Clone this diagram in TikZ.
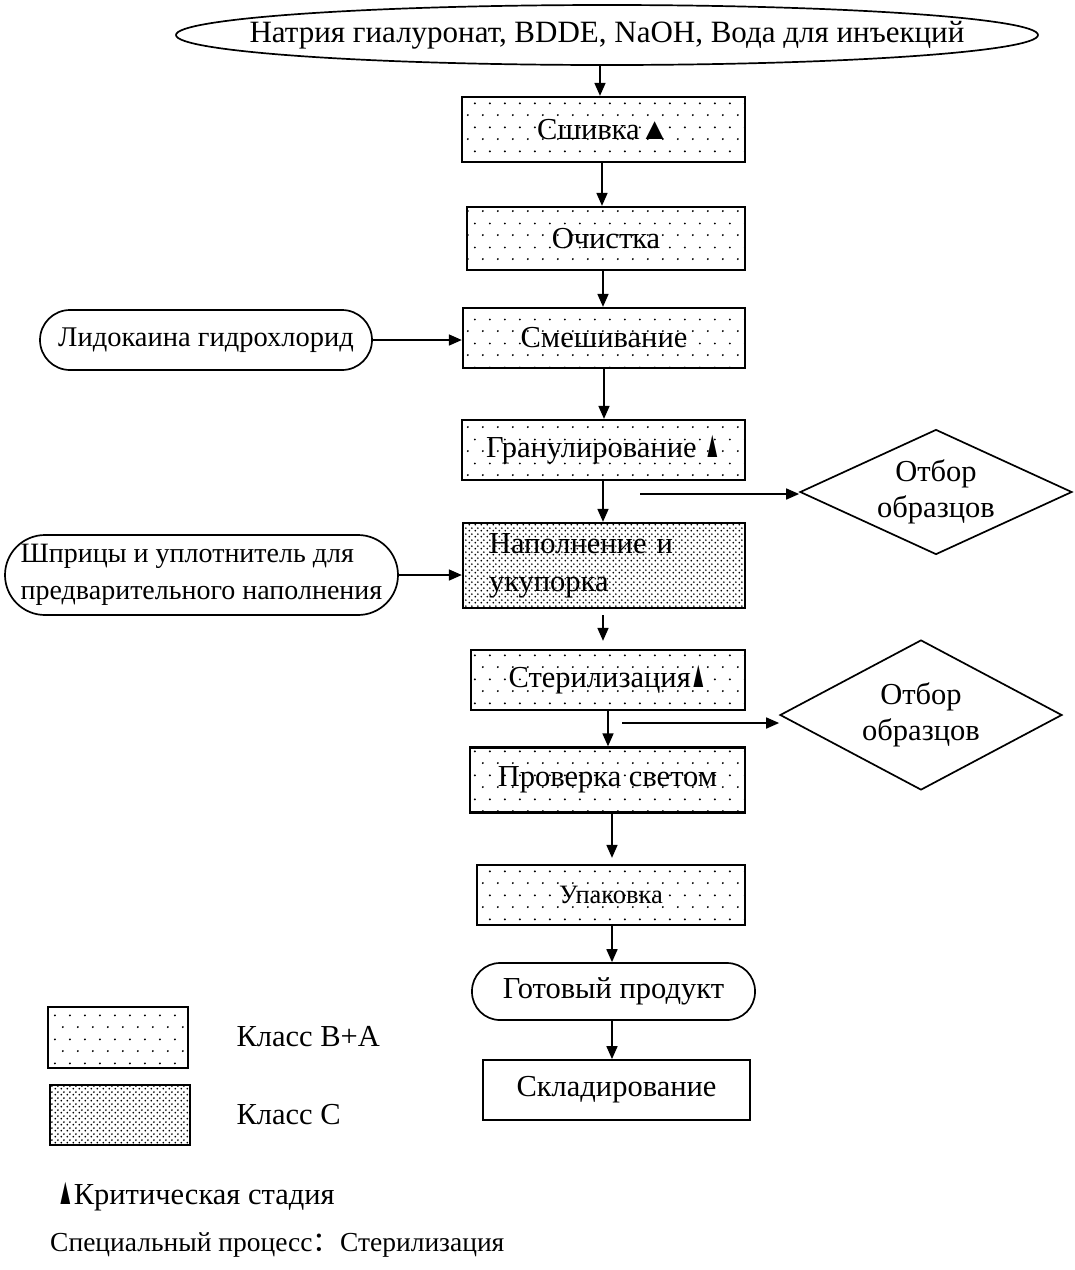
\documentclass[tikz,border=0pt]{standalone}
\usepackage{fontspec}
\usepackage{graphicx}
\setmainfont{Liberation Serif}
\newfontfamily\cjk{Noto Sans CJK SC}
\usetikzlibrary{arrows.meta,shapes.geometric,patterns,calc}
\pgfdeclarepatternformonly{sparsedots}{\pgfpointorigin}{\pgfpoint{15pt}{24pt}}{\pgfpoint{15pt}{24pt}}{%
\pgfpathcircle{\pgfpoint{3pt}{3pt}}{1.1pt}%
\pgfpathcircle{\pgfpoint{10.5pt}{15pt}}{1.1pt}%
\pgfusepath{fill}}
\pgfdeclarepatternformonly{densedots}{\pgfpointorigin}{\pgfpoint{6pt}{6pt}}{\pgfpoint{6pt}{6pt}}{%
\pgfpathcircle{\pgfpoint{1.5pt}{1.5pt}}{1.1pt}%
\pgfpathcircle{\pgfpoint{4.5pt}{4.5pt}}{1.1pt}%
\pgfusepath{fill}}
\newcommand{\narrowtri}{\scalebox{0.55}[1.25]{▲}}
\tikzset{
  txt/.style={font=\fontsize{30.5}{38}\selectfont},
  stepbox/.style={draw, line width=2.3pt, inner sep=0pt, txt},
  sparse/.style={pattern=sparsedots},
  dense/.style={pattern=densedots},
  term/.style={draw, line width=1.7pt, inner sep=0pt, txt},
  samp/.style={draw, line width=1.7pt, shape=diamond, inner sep=0pt, align=center, font=\fontsize{30.5}{36}\selectfont},
  arr/.style={line width=1.7pt, -{Triangle[length=13pt,width=11pt]}},
}
\begin{document}
\begin{tikzpicture}[x=1pt,y=-1pt]
\useasboundingbox (0,0) rectangle (1075,1270);
% main chain
\node[term, shape=ellipse, minimum width=862, minimum height=60] (top) at (607,35) {};
\node[inner sep=0pt, font=\fontsize{31}{36}\selectfont] (toptext) at (top.center) {Натрия гиалуронат, BDDE, NaOH, Вода для инъекций};
\node[stepbox, sparse, minimum width=283, minimum height=65] (cross) at (603.5,129.5) {Сшивка▲};
\node[stepbox, sparse, minimum width=278, minimum height=63] (clean) at (606,238.5) {Очистка};
\node[stepbox, sparse, minimum width=282, minimum height=60] (mix) at (604,338) {Смешивание};
\node[term, rounded corners=30pt, minimum width=332, minimum height=60, font=\fontsize{28.5}{34}\selectfont] (lido) at (206,340) {Лидокаина гидрохлорид};
\node[stepbox, sparse, minimum width=283, minimum height=60] (gran) at (603.5,450) {Гранулирование \narrowtri};
\node[samp, aspect=2.18, minimum width=272, minimum height=125] (s1) at (936,492) {Отбор\\образцов};
\node[stepbox, dense, minimum height=85, text width=230, inner xsep=26pt, align=left] (fill) at (604,565.5) {Наполнение и\\укупорка};
\node[term, rounded corners=40pt, minimum width=393, minimum height=80, align=left, font=\fontsize{28}{37}\selectfont] (syr) at (201.5,575) {Шприцы и уплотнитель для\\предварительного наполнения};
\node[stepbox, sparse, minimum width=274, minimum height=60] (ster) at (608,680) {Стерилизация\narrowtri};
\node[samp, aspect=1.8, minimum width=282, minimum height=150] (s2) at (921,715) {Отбор\\образцов};
\node[stepbox, sparse, minimum width=275, minimum height=65] (check) at (607.5,780) {Проверка светом};
\node[stepbox, sparse, minimum width=268, minimum height=60, font=\fontsize{26.5}{30}\selectfont] (pack) at (611,895) {Упаковка};
\node[term, rounded corners=28pt, minimum width=283, minimum height=57] (prod) at (613.5,991.5) {Готовый продукт};
\node[stepbox, line width=1.8pt, minimum width=267, minimum height=60] (store) at (616.5,1090) {Складирование};
% arrows
\draw[arr] (top.south -| 600,0) -- (cross.north -| 600,0);
\draw[arr] (cross.south -| 602,0) -- (clean.north -| 602,0);
\draw[arr] (clean.south -| 603,0) -- (mix.north -| 603,0);
\draw[arr] (lido.east) -- (lido.east -| mix.west);
\draw[arr] (mix.south -| 604,0) -- (gran.north -| 604,0);
\draw[arr] (gran.south -| 603,0) -- (fill.north -| 603,0);
\coordinate (s1start) at (640,494);
\draw[arr] (s1start) -- (s1start -| s1.west);
\draw[arr] (syr.east) -- (syr.east -| fill.west);
\draw[arr] ($(fill.south -| 603,0)+(0,6)$) -- ($(ster.north -| 603,0)+(0,-8)$);
\draw[arr] (ster.south -| 608,0) -- (check.north -| 608,0);
\coordinate (s2start) at (622,723);
\draw[arr] (s2start) -- (s2start -| s2.west);
\draw[arr] (check.south -| 612,0) -- ($(pack.north -| 612,0)+(0,-6)$);
\draw[arr] (pack.south -| 612,0) -- (prod.north -| 612,0);
\draw[arr] (prod.south -| 612,0) -- (store.north -| 612,0);
% legend
\node[stepbox, sparse, minimum width=140, minimum height=61] (lg1) at (118,1037.5) {};
\node[txt, anchor=west] (lg1t) at (233,1037) {Класс B+A};
\node[stepbox, dense, minimum width=140, minimum height=60] (lg2) at (120,1115) {};
\node[txt, anchor=west] (lg2t) at (233,1115) {Класс C};
\node[txt, anchor=west, inner sep=0pt] (crit) at (57,1197) {\narrowtri Критическая стадия};
\node[anchor=west, inner sep=0pt, font=\fontsize{27.5}{30}\selectfont] (spec) at (50,1245) {Специальный процесс{\cjk ：}Стерилизация};
\end{tikzpicture}
\end{document}
